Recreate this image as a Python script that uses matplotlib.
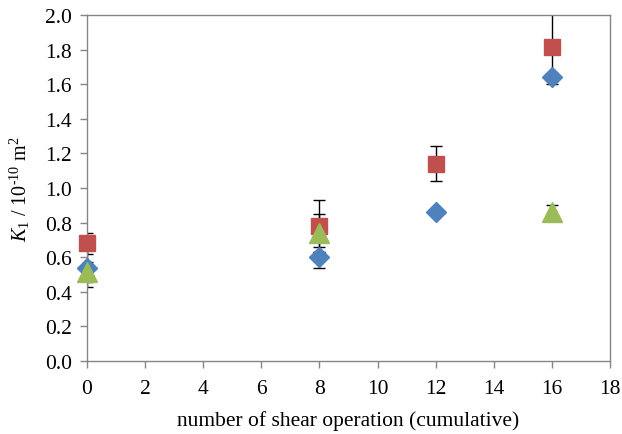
import matplotlib
matplotlib.use("Agg")
import matplotlib.pyplot as plt

# shear count (cumulative) and K1 values per series
x_diamond = [0, 8, 12, 16]
y_diamond = [0.535, 0.60, 0.86, 1.64]
e_diamond = [0.11, 0.06, 0.0, 0.0]

x_square = [0, 8, 12, 16]
y_square = [0.68, 0.78, 1.14, 1.815]
e_square = [0.06, 0.15, 0.10, 0.215]

x_triangle = [0, 8, 16]
y_triangle = [0.515, 0.74, 0.86]
e_triangle = [0.06, 0.11, 0.04]

xticks = list(range(0, 20, 2))
yticks = [i / 10 for i in range(0, 21, 2)]

plt.rcParams["font.family"] = ["Liberation Serif", "DejaVu Serif"]
plt.rcParams["mathtext.fontset"] = "custom"
plt.rcParams["mathtext.rm"] = "Liberation Serif"
plt.rcParams["mathtext.it"] = "Liberation Serif:italic"

GRAY = "#868686"

fig = plt.figure(figsize=(6.22, 4.35), dpi=100)
ax = fig.add_axes([87 / 622, 1 - 362 / 435, (610 - 87) / 622, (362 - 16) / 435])

err_kw = dict(ecolor="black", elinewidth=1, capsize=4, capthick=1, linestyle="none", zorder=2)
ax.errorbar(x_diamond, y_diamond, yerr=e_diamond, **err_kw)
ax.errorbar(x_square, y_square, yerr=e_square, **err_kw)
ax.errorbar(x_triangle, y_triangle, yerr=e_triangle, **err_kw)

ax.plot(x_diamond, y_diamond, "D", color="#4F81BD", ms=10.5, mec="#4F81BD", zorder=3, clip_on=False)
ax.plot(x_square, y_square, "s", color="#C0504D", ms=12, mec="#C0504D", zorder=4, clip_on=False)
ax.plot(x_triangle, y_triangle, "^", color="#9BBB59", ms=14, mec="#9BBB59", zorder=5, clip_on=False)

ax.set_xlim(0, 18)
ax.set_ylim(0, 2.0)
ax.set_xticks(xticks)
ax.set_yticks(yticks)
ax.set_yticklabels([f"{v:.1f}" for v in yticks])

for s in ax.spines.values():
    s.set_color(GRAY)
    s.set_linewidth(1)
ax.tick_params(axis="both", direction="out", length=5, width=1, color=GRAY, labelsize=15.5)
ax.tick_params(axis="x", pad=8)
ax.tick_params(axis="y", pad=6)

ax.set_xlabel("number of shear operation (cumulative)", fontsize=15.5, labelpad=9)
ax.set_ylabel(r"$K_1$ / 10$^{\text{-10}}$ m$^2$", fontsize=14.5, labelpad=9)

fig.savefig("out.png", dpi=100)
